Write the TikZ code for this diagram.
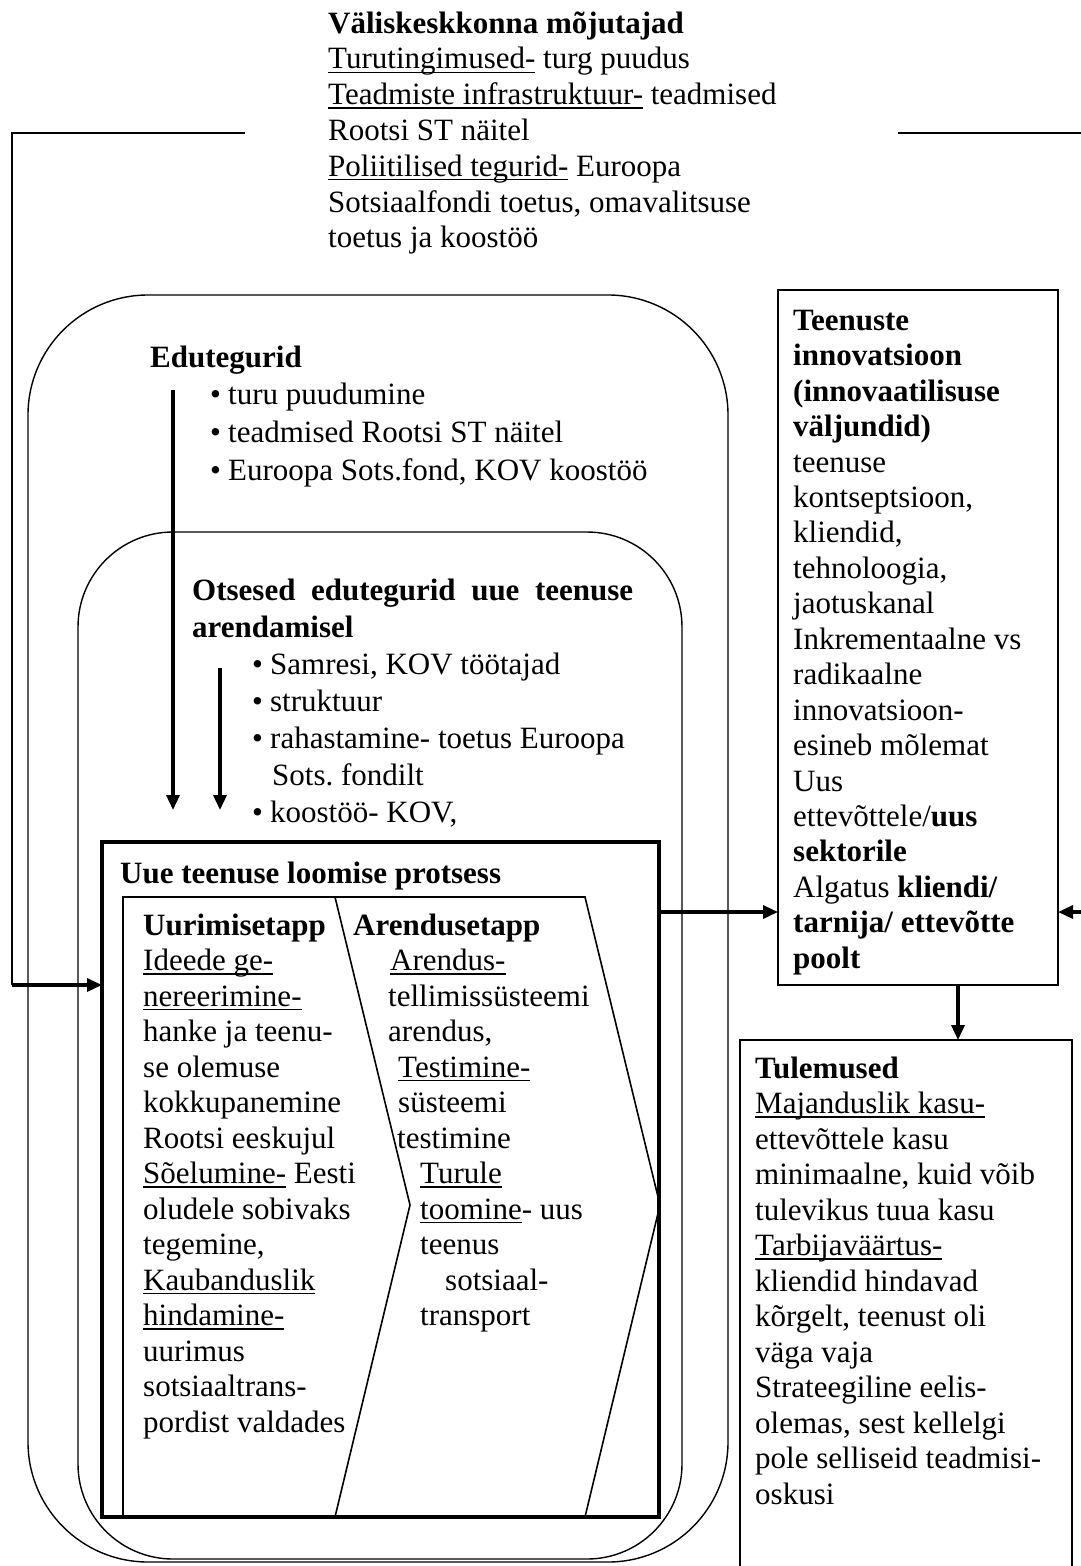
\documentclass[tikz,border=0pt]{standalone}
\usepackage{fontspec}
\setmainfont{Liberation Serif}
\usetikzlibrary{arrows.meta,calc,positioning}
\tikzset{
  wire/.style        = {line width=1.6pt},
  flow/.style        = {-{Triangle[length=15pt,width=13pt]}, line width=3.4pt},
  frame/.style       = {draw, line width=1.6pt, inner sep=0pt, outer sep=0pt},
  heavy frame/.style = {draw, line width=3.4pt, inner sep=0pt, outer sep=0pt},
  round frame/.style = {draw, line width=1.4pt, inner sep=0pt, outer sep=0pt,
                        rounded corners=#1},
  txt/.style         = {anchor=north west, inner sep=0pt, align=left,
                        font=\fontsize{31}{35.5}\selectfont},
}
\newcommand{\itembul}{\makebox[18pt][l]{\textbullet}}
\newsavebox{\ulbox}
\newcommand{\uln}[1]{\sbox{\ulbox}{#1}\rlap{\rule[-4pt]{\wd\ulbox}{1.4pt}}\usebox{\ulbox}}

\begin{document}
\begin{tikzpicture}[x=1pt,y=-1pt]
  \useasboundingbox (0,0) rectangle (1080,1566);

  % =======================================================================
  %  External influences
  % =======================================================================
  \node[txt, font=\fontsize{31}{35.8}\selectfont] (mojutajad) at (328,7.9)
        {\strut\textbf{Väliskeskkonna mõjutajad}\\
         \uln{Turutingimused-} turg puudus\\
         \uln{Teadmiste infrastruktuur-} teadmised\\
         Rootsi ST näitel\\
         \uln{Poliitilised tegurid-} Euroopa\\
         Sotsiaalfondi toetus, omavalitsuse\\
         toetus ja koostöö};

  % ---- nested frames ----------------------------------------------------
  \node[round frame=120pt, minimum width=700pt, minimum height=1267pt] (outer) at (378,928.5) {};
  \node[round frame=95pt, minimum width=604pt, minimum height=1027pt] (inner) at (380,1045.5) {};
  \node[heavy frame, minimum width=557pt, minimum height=675pt] (protsess) at (380.5,1179.5) {};

  % success factors
  \node[txt, font=\fontsize{31}{37.7}\selectfont] (eduteg) at (150,340.6)
        {\strut\textbf{Edutegurid}\\
         \hspace*{60pt}\itembul turu puudumine\\
         \hspace*{60pt}\itembul teadmised Rootsi ST näitel\\
         \hspace*{60pt}\itembul Euroopa Sots.fond, KOV koostöö};
  \coordinate (eduA) at (173,390);
  \coordinate (eduB) at (173,810);
  \draw[flow] (eduA) -- (eduB);

  \node[txt, font=\fontsize{31}{37}\selectfont] (otsesed) at (192,574.1)
        {\strut\textbf{\makebox[441pt][s]{Otsesed edutegurid uue teenuse}}\\
         \textbf{arendamisel}\\
         \hspace*{60pt}\itembul Samresi, KOV töötajad\\
         \hspace*{60pt}\itembul struktuur\\
         \hspace*{60pt}\itembul rahastamine- toetus Euroopa\\
         \hspace*{80pt}Sots.\ fondilt\\
         \hspace*{60pt}\itembul koostöö- KOV,};
  \coordinate (otsA) at (220,668);
  \coordinate (otsB) at (220,810);
  \draw[flow] (otsA) -- (otsB);

  % ---- process with its two stages -------------------------------------
  \node[txt] (protitle) at (120,858) {\strut\textbf{Uue teenuse loomise protsess}};
  \draw[wire] (123,1517) -- (123,897) -- (335,897) -- (410,1205) -- (335,1517);
  \draw[wire] (335,897) -- (585,897) -- (660,1205) -- (585,1517);

  \node[txt] (uurimine) at (143,910)
        {\strut\textbf{Uurimisetapp}\\
         \uln{Ideede ge-}\\
         \uln{nereerimine-}\\
         hanke ja teenu-\\
         se olemuse\\
         kokkupanemine\\
         Rootsi eeskujul\\
         \uln{Sõelumine-} Eesti\\
         oludele sobivaks\\
         tegemine,\\
         \uln{Kaubanduslik}\\
         \uln{hindamine-}\\
         uurimus\\
         sotsiaaltrans-\\
         pordist valdades};

  \node[txt] (arendus) at (353,910)
        {\strut\textbf{Arendusetapp}\\
         \hspace*{37pt}\uln{Arendus-}\\
         \hspace*{35pt}tellimissüsteemi\\
         \hspace*{35pt}arendus,\\
         \hspace*{45pt}\uln{Testimine-}\\
         \hspace*{45pt}süsteemi\\
         \hspace*{44pt}testimine\\
         \hspace*{67pt}\uln{Turule}\\
         \hspace*{67pt}\uln{toomine}- uus\\
         \hspace*{67pt}teenus\\
         \hspace*{92pt}sotsiaal-\\
         \hspace*{67pt}transport};

  % =======================================================================
  %  Innovation and results
  % =======================================================================
  \node[frame, minimum width=280pt, minimum height=695pt] (innov) at (918,637.5) {};
  \node[txt, font=\fontsize{31}{35.45}\selectfont] (innovtxt) at (793,305.2)
        {\strut\textbf{Teenuste}\\
         \textbf{innovatsioon}\\
         \textbf{(innovaatilisuse}\\
         \textbf{väljundid)}\\
         teenuse\\
         kontseptsioon,\\
         kliendid,\\
         tehnoloogia,\\
         jaotuskanal\\
         Inkrementaalne vs\\
         radikaalne\\
         innovatsioon-\\
         esineb mõlemat\\
         Uus\\
         ettevõttele/\textbf{uus}\\
         \textbf{sektorile}\\
         Algatus \textbf{kliendi/}\\
         \textbf{tarnija/ ettevõtte}\\
         \textbf{poolt}};

  \node[frame, minimum width=332pt, minimum height=560pt] (tulem) at (906,1320) {};
  \node[txt] (tulemtxt) at (755,1053)
        {\strut\textbf{Tulemused}\\
         \uln{Majanduslik kasu-}\\
         ettevõttele kasu\\
         minimaalne, kuid võib\\
         tulevikus tuua kasu\\
         \uln{Tarbijaväärtus-}\\
         kliendid hindavad\\
         kõrgelt, teenust oli\\
         väga vaja\\
         Strateegiline eelis-\\
         olemas, sest kellelgi\\
         pole selliseid teadmisi-\\
         oskusi};

  % =======================================================================
  %  Links
  % =======================================================================
  \coordinate (wl) at (245,133);
  \coordinate (lcorner) at (12,985);
  \draw[wire] (wl) -| (lcorner);
  \draw[flow] (lcorner) -- (lcorner -| protsess.west);

  \coordinate (wr) at (898,133);
  \coordinate (rcorner) at (1100,912);
  \draw[wire] (wr) -| (rcorner);
  \draw[flow] (rcorner) -- (rcorner -| innov.east);

  \coordinate (link) at (700,912);
  \draw[flow] (link -| protsess.east) -- (link -| innov.west);

  \coordinate (down) at (958,1000);
  \draw[flow] (down |- innov.south) -- (down |- tulem.north);
\end{tikzpicture}
\end{document}
